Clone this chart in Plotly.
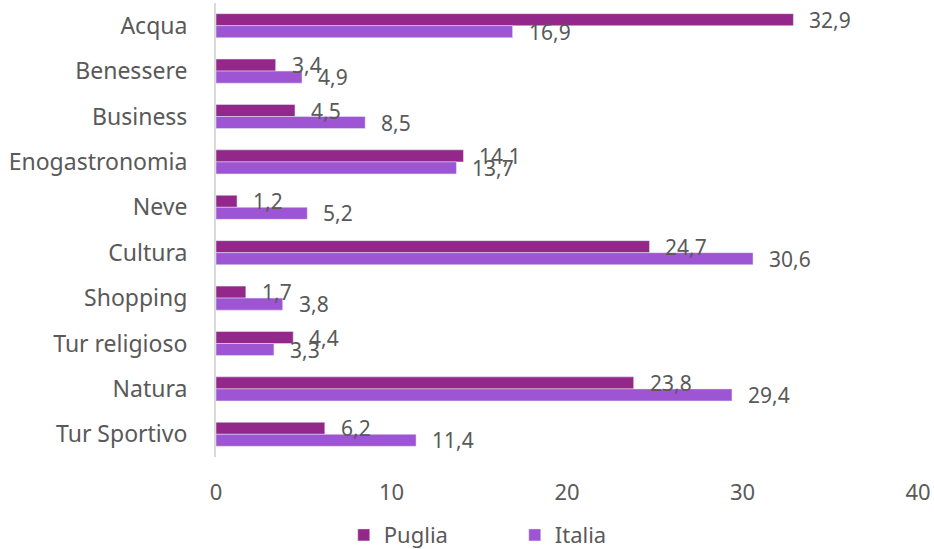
import plotly.graph_objects as go

categories = ["Acqua", "Benessere", "Business", "Enogastronomia", "Neve",
              "Cultura", "Shopping", "Tur religioso", "Natura", "Tur Sportivo"]
puglia = [32.9, 3.4, 4.5, 14.1, 1.2, 24.7, 1.7, 4.4, 23.8, 6.2]
italia = [16.9, 4.9, 8.5, 13.7, 5.2, 30.6, 3.8, 3.3, 29.4, 11.4]
x_ticks = [0, 10, 20, 30, 40]

FONT = "Noto Sans"
GREY = "#595959"


def fmt(v):
    return f"{v:.1f}".replace(".", ",")


fig = go.Figure()
fig.add_trace(go.Bar(y=categories, x=puglia, name="Puglia", orientation="h",
                     marker=dict(color="#93288A")))
fig.add_trace(go.Bar(y=categories, x=italia, name="Italia", orientation="h",
                     marker=dict(color="#9D55D3")))

# data labels, offset like the original
for vals, dy in ((puglia, 6), (italia, -6)):
    for c, v in zip(categories, vals):
        fig.add_annotation(x=v, y=c, text=fmt(v), showarrow=False,
                           xanchor="left", xshift=14, yshift=dy,
                           font=dict(family=FONT, size=21, color=GREY))

fig.update_layout(
    width=934, height=549,
    margin=dict(l=216, r=16, t=3, b=92, autoexpand=False),
    barmode="group", bargap=0.47, bargroupgap=0,
    plot_bgcolor="white", paper_bgcolor="white",
    font=dict(family=FONT, color=GREY, size=22),
    legend=dict(orientation="h", x=0.182, xanchor="left", y=-0.172, yanchor="middle",
                font=dict(size=22), traceorder="normal", itemwidth=30,
                entrywidth=126, borderwidth=0),
)
fig.update_xaxes(range=[0, 40], tickvals=x_ticks, showgrid=False, zeroline=False,
                 showline=False, ticklabelstandoff=20, automargin=False,
                 tickfont=dict(size=22, color=GREY))
fig.update_yaxes(categoryorder="array", categoryarray=categories, autorange="reversed",
                 showline=True, linecolor="#D9D9D9", linewidth=2, showgrid=False,
                 ticklabelstandoff=22, automargin=False,
                 tickfont=dict(size=23, color=GREY))

# drop the default 8px page margin so the figure fills the window
fig.write_html("out.html", config={"displayModeBar": False},
               post_script="document.body.style.margin='0';")
